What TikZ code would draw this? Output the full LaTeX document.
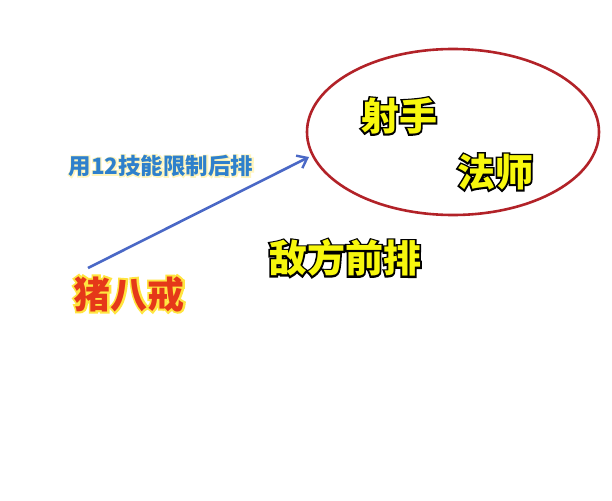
\documentclass[tikz,border=0pt]{standalone}
\usepackage{fontspec}
\newfontfamily\cjk{Noto Sans CJK SC}
\newfontfamily\cjkfat{Noto Sans CJK SC}[BoldFeatures={FakeBold=9}]
\newfontfamily\cjkhalo{Noto Sans CJK SC}[BoldFeatures={FakeBold=11}]
\usetikzlibrary{arrows.meta,shapes.geometric}
\definecolor{ellred}{HTML}{B22228}
\definecolor{arrblue}{HTML}{4A68C6}
% #1 fill rgb, #2 halo rgb, #3 halo font, #4 text
\newcommand{\haloed}[4]{\rlap{#3\special{pdf:bcolor [#2] [#2]}#4\special{pdf:ecolor}}\special{pdf:bcolor [#1]}#4\special{pdf:ecolor}}
\newcommand{\yeltext}[1]{\haloed{0.97 0.97 0.05}{0 0 0}{\cjkfat}{#1}}
\newcommand{\redtext}[1]{\haloed{0.90 0.22 0.10}{1 0.90 0.25}{\cjkhalo}{#1}}
\newcommand{\bluetext}[1]{\haloed{0.18 0.50 0.80}{1 0.96 0.74}{\cjkhalo}{#1}}
\tikzset{
  bigyel/.style={inner sep=0pt, font=\cjk\bfseries\fontsize{38}{40}\selectfont},
  hero/.style={inner sep=0pt, font=\cjk\bfseries\fontsize{37}{40}\selectfont},
  lbl/.style={inner sep=0pt, font=\cjk\bfseries\fontsize{22.5}{24}\selectfont},
  ring/.style={draw=ellred, line width=2.6pt},
  skill/.style={draw=arrblue, line width=2.6pt, -{Straight Barb[length=9pt,width=14pt,line width=2.4pt]}}
}
\begin{document}
\begin{tikzpicture}[x=1pt,y=-1pt]
\useasboundingbox[fill=white] (0,0) rectangle (612,500);
\node[ring, ellipse, minimum width=292pt, minimum height=166pt, inner sep=0pt] (enemy) at (453,132) {};
\node[bigyel] (adc) at (399,116) {\yeltext{射手}};
\node[bigyel] (mage) at (495,172) {\yeltext{法师}};
\node[bigyel] (front) at (345,258) {\yeltext{敌方前排}};
\node[hero] (zbj) at (129,294) {\redtext{猪八戒}};
\coordinate (start) at (88,268);
\coordinate (tip) at (309,157);
\draw[skill] (start) -- (tip);
\node[lbl] (skilllbl) at (161,166) {\bluetext{用12技能限制后排}};
\end{tikzpicture}
\end{document}
